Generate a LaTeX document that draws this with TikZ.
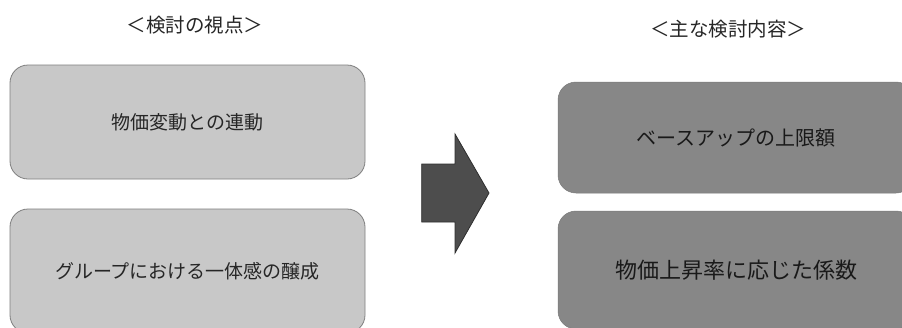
\documentclass[tikz,border=0pt]{standalone}
\usepackage{fontspec}
\setmainfont{Noto Sans CJK JP}
\definecolor{lightbox}{HTML}{C8C8C8}
\definecolor{lightedge}{HTML}{7F7F7F}
\definecolor{darkbox}{HTML}{878787}
\definecolor{arrowfill}{HTML}{4D4D4D}
\definecolor{arrowedge}{HTML}{2E2E2E}
\begin{document}
\begin{tikzpicture}[x=1pt,y=-1pt,
  lightstyle/.style={draw=lightedge,fill=lightbox,line width=0.8pt,rounded corners=18pt,
    minimum width=355pt,inner sep=0pt,font=\fontsize{19}{22}\selectfont,text=black!85},
  darkstyle/.style={draw=darkbox!90!black,fill=darkbox,line width=0.5pt,rounded corners=18pt,
    minimum width=356pt,inner sep=0pt,text=black!90},
  titlestyle/.style={inner sep=0pt,font=\fontsize{19.5}{22}\selectfont,text=black!85}]
\useasboundingbox (0,0) rectangle (902,327);
\clip (0,0) rectangle (902,327);
\fill[white] (0,0) rectangle (902,327);
\node[titlestyle] (t1) at (195,25) {＜検討の視点＞};
\node[titlestyle] (t2) at (728,29) {＜主な検討内容＞};
\node[lightstyle,minimum height=114pt] (l1) at (187.5,122) {物価変動との連動};
\node[lightstyle,minimum height=124pt] (l2) at (187.5,271) {グループにおける一体感の醸成};
\node[darkstyle,minimum height=111pt,font=\fontsize{20}{24}\selectfont] (r1) at (736,137.5) {ベースアップの上限額};
\node[darkstyle,minimum height=118pt,font=\fontsize{22}{26}\selectfont] (r2) at (736,270) {物価上昇率に応じた係数};
\draw[fill=arrowfill,draw=arrowedge,line width=0.8pt]
  (421.7,164) -- (455,164) -- (455,134) -- (489,193) -- (455,253) -- (455,222) -- (421.7,222) -- cycle;
\end{tikzpicture}
\end{document}
